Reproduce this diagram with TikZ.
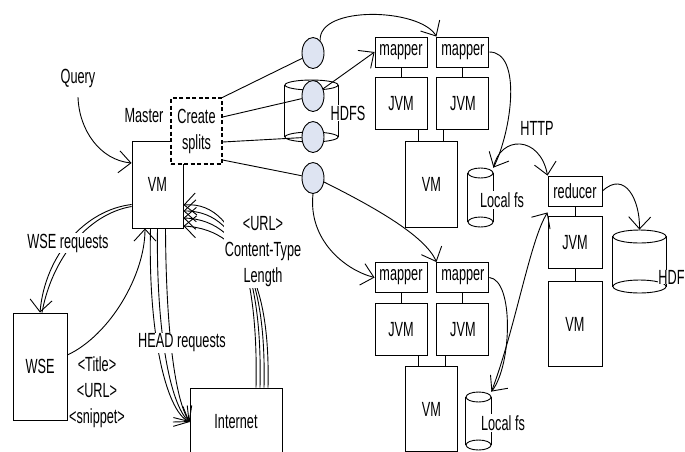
\documentclass[tikz,border=0pt]{standalone}
\usepackage{fontspec}
\setmainfont{Liberation Sans}[FakeStretch=0.62]
\usetikzlibrary{arrows.meta,positioning,shapes.geometric}

\definecolor{splitfill}{RGB}{222,228,242}

% disk: sides and both end ellipses around a named node
\newcommand{\drawdisk}[3]{%
  \draw ([yshift=-#3/2]#1.north west) -- ([yshift=#3/2]#1.south west)
        ([yshift=-#3/2]#1.north east) -- ([yshift=#3/2]#1.south east);
  \node[draw, ellipse, fill=white, minimum width=#2, minimum height=#3, inner sep=0pt, anchor=north] (#1top) at (#1.north) {};
  \node[draw, ellipse, minimum width=#2, minimum height=#3, inner sep=0pt, anchor=south] (#1bot) at (#1.south) {};
}

\begin{document}
\begin{tikzpicture}[
  x=1pt, y=-1pt,
  font=\fontsize{20.5}{26}\selectfont,
  line width=0.9pt,
  node distance=10pt and 9pt,
  box/.style={draw, fill=white, minimum width=52pt, inner sep=0pt, align=center},
  mapbox/.style={box, minimum height=30pt},
  jvmbox/.style={box, minimum height=52pt},
  vmbox/.style={box, minimum height=86pt},
  split/.style={draw, ellipse, fill=splitfill, minimum width=22pt, minimum height=31pt, inner sep=0pt},
  disk/.style={fill=white, inner sep=0pt},
  lbl/.style={fill=white, inner sep=1pt, align=center},
  arr/.style={-{Straight Barb[length=12pt,width=22pt]}}
]
  \useasboundingbox (0,0) rectangle (685,451);
  \clip (0,0) rectangle (685,451);

  % master, search engine, internet
  \node (query) at (78,78) {Query};
  \node[box, minimum width=51pt, minimum height=87pt] (master) at (157.5,184.5) {VM};
  \node[box, dashed, dash pattern=on 4pt off 2.5pt, line width=1.3pt,
        minimum width=51pt, minimum height=66pt] (splits) at (196.5,131) {Create\\splits};
  \node (masterlbl) at (144,116) {Master};
  \node[box, minimum width=54pt, minimum height=107pt] (wse) at (40,366.5) {WSE};
  \node[align=center] (results) at (97,392) {\textless Title\textgreater\\\textless URL\textgreater\\\textless snippet\textgreater};
  \node[box, minimum width=92pt, minimum height=68pt] (inet) at (236,422) {Internet};

  % splits on HDFS
  \node[disk, minimum width=53pt, minimum height=62pt] (hdfs) at (311.5,111) {};
  \drawdisk{hdfs}{53pt}{10pt}
  \node[split] (sp1) at (313,53) {};
  \node[split] (sp2) at (313,96) {};
  \node[split] (sp3) at (313,137) {};
  \node[split] (sp4) at (313,178) {};
  \node[lbl] (hdfslbl) at (348,113) {HDFS};

  % upper worker
  \node[mapbox] (map1) at (401,52) {mapper};
  \node[mapbox, right=of map1] (map2) {mapper};
  \node[jvmbox, below=of map1] (jvm1) {JVM};
  \node[jvmbox, below=of map2] (jvm2) {JVM};
  \node[vmbox, below=11pt of jvm1.south east, anchor=north, xshift=4pt] (vm1) {VM};
  \node[disk, minimum width=25pt, minimum height=59pt] (lfs1) at (480.5,197.5) {};
  \drawdisk{lfs1}{25pt}{10pt}
  \node[lbl] (lfslbl1) at (502,200) {Local fs};

  % lower worker
  \node[mapbox] (map3) at (401,277.5) {mapper};
  \node[mapbox, right=of map3] (map4) {mapper};
  \node[jvmbox, below=of map3] (jvm3) {JVM};
  \node[jvmbox, below=of map4] (jvm4) {JVM};
  \node[vmbox, below=10.5pt of jvm3.south east, anchor=north, xshift=4pt, minimum height=85pt] (vm2) {VM};
  \node[disk, minimum width=25pt, minimum height=58pt] (lfs2) at (478.5,421) {};
  \drawdisk{lfs2}{25pt}{10pt}
  \node[lbl] (lfslbl2) at (503,423) {Local fs};

  % reducer
  \node[box, minimum width=54pt, minimum height=30pt] (red) at (575,191) {reducer};
  \node[jvmbox, minimum width=54pt, below=of red] (jvm5) {JVM};
  \node[vmbox, minimum width=54pt, minimum height=85pt, below=12pt of jvm5] (vm5) {VM};
  \node[disk, minimum width=53pt, minimum height=63pt] (hdfs2) at (639.5,261.5) {};
  \drawdisk{hdfs2}{53pt}{13pt}
  \node[lbl, anchor=east, inner sep=0pt] (hdfslbl2) at (685,277) {HDF};
  \node (http) at (537,128) {HTTP};

  % stacks
  \draw (map1) -- (jvm1);
  \draw (map2) -- (jvm2);
  \draw (jvm1.-57) -- (jvm1.-57 |- vm1.north);
  \draw (jvm2.-126) -- (jvm2.-126 |- vm1.north);
  \draw (map3) -- (jvm3);
  \draw (map4) -- (jvm4);
  \draw (jvm3.-57) -- (jvm3.-57 |- vm2.north);
  \draw (jvm4.-124) -- (jvm4.-124 |- vm2.north);
  \draw (red) -- (jvm5);
  \draw (jvm5) -- (vm5);

  % master side
  \draw[arr] ([yshift=-6pt]query.south) .. controls (79,130) and (100,160) .. ([yshift=21.5pt]master.west);
  \draw[arr] ([yshift=-20pt]master.west) .. controls (85,210) and (45,255) .. (wse.north);
  \draw ([yshift=-22pt]master.west) .. controls (88,214) and (52,258) .. ([xshift=2pt]wse.north);
  \draw[arr] ([yshift=11.5pt]wse.east) .. controls (110,335) and (145,275) .. ([xshift=-12.5pt]master.south);
  \draw[arr] ([xshift=-7pt]master.south) .. controls (148,330) and (165,410) .. (inet.west);
  \draw[arr] (master.south) .. controls (156,330) and (170,405) .. (inet.west);
  \draw[arr] ([xshift=8pt]master.south) .. controls (166,330) and (175,400) .. (inet.west);
  \draw[arr] ([xshift=20pt]inet.north) .. controls (258,300) and (245,200) .. ([yshift=-20.5pt]master.east);
  \draw[arr] ([xshift=24pt]inet.north) .. controls (262,300) and (248,210) .. ([yshift=-26.5pt]master.east);
  \draw[arr] ([xshift=28pt]inet.north) .. controls (266,300) and (250,220) .. ([yshift=-33.5pt]master.east);
  \draw[arr] ([xshift=32pt]inet.north) .. controls (270,300) and (252,230) .. ([yshift=-41.5pt]master.east);
  \node[lbl] (wselbl) at (68,243) {WSE requests};
  \node[lbl] (headlbl) at (182,343) {HEAD requests};
  \node[lbl] (urllbl) at (263,252) {\textless URL\textgreater\\Content-Type\\Length};

  % splits
  \draw (splits.north east) -- (sp1);
  \draw ([yshift=14pt]splits.east) -- (sp2);
  \draw ([yshift=-11pt]splits.east) -- (sp3);
  \draw ([yshift=-29pt]splits.east) -- (sp4);
  \draw[arr] (sp1.60) .. controls (318,5) and (420,8) .. (map2.north west);
  \draw[arr] (sp2) -- (map1.west);
  \draw[arr] (sp4.south) .. controls (308,240) and (345,270) .. (map3.west);
  \draw[arr] (sp4.-20) .. controls (370,205) and (425,235) .. (map4.north west);

  % map outputs, shuffle, reduce
  \draw[arr] (map2.east) .. controls (522,52) and (512,130) .. (lfs1.north east);
  \draw[arr] (lfs1.north east) .. controls (500,135) and (540,135) .. (red.north west);
  \draw[arr] (map4.east) .. controls (514,280) and (512,365) .. (lfs2.north east);
  \draw[arr] (lfs2.north east) .. controls (515,330) and (530,240) .. ([yshift=-6pt]red.south west);
  \draw[arr] (red.east) .. controls (625,170) and (640,200) .. (hdfs2.north);
\end{tikzpicture}
\end{document}
